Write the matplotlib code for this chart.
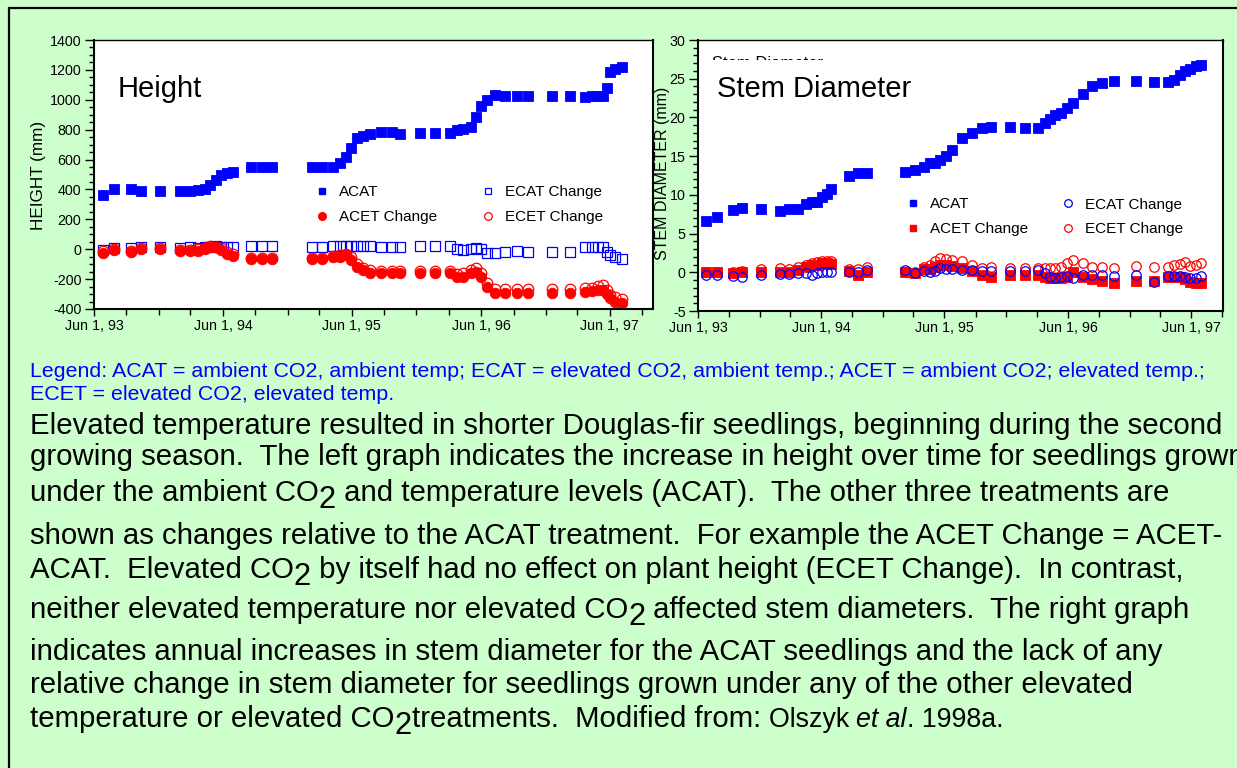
import matplotlib
matplotlib.use("Agg")
import matplotlib.pyplot as plt
import matplotlib.dates as mdates
from matplotlib.ticker import MultipleLocator, FuncFormatter
from matplotlib.lines import Line2D
from matplotlib.legend import Legend
from matplotlib.patches import Rectangle
import pandas as pd

plt.rcParams['font.family'] = ['Liberation Sans', 'DejaVu Sans']
plt.rcParams['axes.unicode_minus'] = False

# ---------------- data ----------------
height_dates = ["1993-06-27", "1993-07-28", "1993-09-13", "1993-10-11", "1993-12-05",
                "1994-01-30", "1994-02-28", "1994-03-23", "1994-04-11", "1994-04-25",
                "1994-05-12", "1994-05-28", "1994-06-12", "1994-06-30", "1994-08-21",
                "1994-09-19", "1994-10-17", "1995-02-07", "1995-03-08", "1995-04-09",
                "1995-04-28", "1995-05-15", "1995-05-29", "1995-06-15", "1995-07-02",
                "1995-07-24", "1995-08-24", "1995-09-22", "1995-10-15", "1995-12-11",
                "1996-01-22", "1996-03-05", "1996-03-24", "1996-04-12", "1996-05-05",
                "1996-05-19", "1996-06-02", "1996-06-17", "1996-07-11", "1996-08-08",
                "1996-09-10", "1996-10-13", "1996-12-18", "1997-02-08", "1997-03-22",
                "1997-04-10", "1997-04-29", "1997-05-12", "1997-05-24", "1997-06-01",
                "1997-06-15", "1997-07-04"]
height_acat = [363, 400, 401, 392, 388, 392, 392, 396, 401, 430, 463, 497, 512, 519, 548,
               552, 552, 552, 552, 550, 577, 620, 675, 742, 758, 771, 782, 782, 771, 776,
               776, 776, 798, 802, 820, 883, 958, 998, 1032, 1025, 1025, 1025, 1025, 1025,
               1017, 1022, 1025, 1025, 1077, 1188, 1204, 1217]
height_ecat_change = [-5, 6, 6, 13, 13, 6, 13, 6, 13, 18, 22, 13, 13, 13, 24, 22, 24, 17, 17,
                      24, 22, 22, 24, 24, 24, 22, 13, 13, 17, 24, 24, 24, 0, -5, 0, 6, 0,
                      -28, -28, -17, -10, -17, -17, -17, 17, 17, 17, 13, -20, -38, -50, -67]
height_acet_change = [-23, -5, -17, 0, 0, -12, -12, -12, 0, 13, 13, -5, -34, -43, -65, -65,
                      -65, -67, -65, -54, -50, -38, -72, -117, -139, -157, -161, -161, -161,
                      -161, -161, -161, -188, -184, -161, -150, -184, -250, -295, -290, -290,
                      -290, -290, -290, -284, -280, -273, -273, -300, -328, -350, -362]
height_ecet_change = [-15, 0, -10, 8, 5, -8, -8, 0, 8, 22, 18, 5, -20, -30, -60, -60, -60,
                      -62, -60, -45, -40, -30, -55, -100, -125, -140, -143, -143, -143, -143,
                      -143, -143, -165, -160, -140, -125, -160, -225, -268, -268, -268, -268,
                      -268, -268, -262, -258, -245, -242, -275, -305, -320, -335]

stem_dates = ["1993-06-25", "1993-07-26", "1993-09-12", "1993-10-09", "1993-12-05",
              "1994-01-30", "1994-02-27", "1994-03-25", "1994-04-17", "1994-05-04",
              "1994-05-19", "1994-06-03", "1994-06-18", "1994-06-29", "1994-08-21",
              "1994-09-19", "1994-10-16", "1995-02-05", "1995-03-06", "1995-03-31",
              "1995-04-18", "1995-05-05", "1995-05-19", "1995-06-06", "1995-06-24",
              "1995-07-23", "1995-08-21", "1995-09-20", "1995-10-17", "1995-12-11",
              "1996-01-26", "1996-03-03", "1996-03-26", "1996-04-10", "1996-04-24",
              "1996-05-11", "1996-05-29", "1996-06-16", "1996-07-16", "1996-08-11",
              "1996-09-10", "1996-10-14", "1996-12-18", "1997-02-10", "1997-03-25",
              "1997-04-10", "1997-04-28", "1997-05-13", "1997-05-28", "1997-06-14",
              "1997-07-01"]
stem_acat = [6.67, 7.18, 8.04, 8.26, 8.13, 7.96, 8.17, 8.17, 8.78, 9.04, 9.12, 9.77, 10.11,
             10.72, 12.44, 12.78, 12.78, 12.91, 13.21, 13.64, 14.08, 14.16, 14.5, 15.0, 15.8,
             17.3, 17.95, 18.6, 18.7, 18.7, 18.6, 18.6, 19.3, 19.76, 20.3, 20.6, 21.2, 21.9,
             23.0, 24.06, 24.5, 24.7, 24.7, 24.6, 24.6, 24.8, 25.5, 26.0, 26.3, 26.6, 26.8]
stem_acet_change = [0.0, 0.0, -0.1, 0.0, 0.1, 0.1, 0.0, 0.35, 0.7, 0.9, 1.0, 1.2, 1.2, 1.1,
                    0.2, -0.35, 0.0, 0.0, -0.1, 0.4, 0.4, 0.7, 1.0, 1.0, 0.8, 0.6, 0.2,
                    -0.35, -0.56, -0.35, -0.35, -0.35, -0.56, -0.7, -0.78, -0.8, -0.56, 0.0,
                    -0.56, -0.9, -1.1, -1.34, -1.1, -1.1, -0.6, -0.6, -0.6, -0.9, -1.2,
                    -1.34, -1.34]
stem_ecat_change = [-0.35, -0.35, -0.45, -0.6, -0.35, -0.2, -0.2, -0.1, -0.1, -0.35, -0.1,
                    0.0, 0.0, 0.0, 0.0, 0.0, 0.3, 0.3, -0.1, 0.2, 0.1, 0.2, 0.5, 0.4, 0.4,
                    0.3, 0.3, 0.2, 0.2, 0.2, 0.2, 0.3, -0.1, -0.56, -0.7, -0.56, -0.5, -0.7,
                    -0.4, -0.4, -0.35, -0.45, -0.35, -1.2, -0.45, -0.45, -0.45, -0.6, -0.7,
                    -0.8, -0.45]
stem_ecet_change = [0.1, 0.1, 0.1, 0.2, 0.4, 0.5, 0.4, 0.7, 1.0, 1.2, 1.3, 1.4, 1.5, 1.4,
                    0.4, 0.4, 0.7, 0.1, 0.1, 0.7, 0.9, 1.4, 1.9, 1.7, 1.6, 1.4, 0.95, 0.5,
                    0.65, 0.5, 0.5, 0.5, 0.5, 0.5, 0.6, 0.73, 1.16, 1.6, 1.16, 0.73, 0.73,
                    0.5, 0.8, 0.65, 0.73, 0.95, 1.1, 1.3, 0.8, 0.95, 1.16]

series_labels = ["ACAT", "ECAT Change", "ACET Change", "ECET Change"]

legend_line1 = ("Legend: ACAT = ambient CO2, ambient temp; ECAT = elevated CO2, ambient temp.; "
                "ACET = ambient CO2; elevated temp.;")
legend_line2 = "ECET = elevated CO2, elevated temp."

# each paragraph line: list of (text, kind); kind: n=normal, s=subscript, m=citation, i=citation italic
paragraph = [
    [("Elevated temperature resulted in shorter Douglas-fir seedlings, beginning during the second", "n")],
    [("growing season.  The left graph indicates the increase in height over time for seedlings grown", "n")],
    [("under the ambient CO", "n"), ("2", "s"), (" and temperature levels (ACAT).  The other three treatments are", "n")],
    [("shown as changes relative to the ACAT treatment.  For example the ACET Change = ACET-", "n")],
    [("ACAT.  Elevated CO", "n"), ("2", "s"), (" by itself had no effect on plant height (ECET Change).  In contrast,", "n")],
    [("neither elevated temperature nor elevated CO", "n"), ("2", "s"), (" affected stem diameters.  The right graph", "n")],
    [("indicates annual increases in stem diameter for the ACAT seedlings and the lack of any", "n")],
    [("relative change in stem diameter for seedlings grown under any of the other elevated", "n")],
    [("temperature or elevated CO", "n"), ("2", "s"), ("treatments.  Modified from: ", "n"),
     ("Olszyk ", "m"), ("et al", "i"), (". 1998a.", "m")],
]
paragraph_baselines = [434, 465, 501, 544, 578, 618, 660, 693, 727]

# ---------------- figure ----------------
W, H = 1237, 768
fig = plt.figure(figsize=(W / 100, H / 100), dpi=100)
fig.patch.set_facecolor('#CCFFCC')

BLUE = '#0000FF'
RED = '#FF0000'


def fx(px):
    return px / W


def fy(py):
    return 1 - py / H


def axes_px(left, top, right, bottom):
    return fig.add_axes([fx(left), fy(bottom), (right - left) / W, (bottom - top) / H])


# slide frame (top and left edges fall inside the canvas)
fig.add_artist(Rectangle((fx(9), fy(1200)), fx(1600), fy(8) - fy(1200), transform=fig.transFigure,
                         fill=False, edgecolor='black', linewidth=1.6))


def date_fmt(x, pos):
    d = mdates.num2date(x)
    return f"{d:%b} {d.day}, {d:%y}"


def style_axes(ax, ylim, major, minor, xend):
    ax.set_facecolor('white')
    ax.set_xlim(pd.Timestamp("1993-06-01"), pd.Timestamp(xend))
    ax.set_ylim(*ylim)
    ax.xaxis.set_major_locator(mdates.YearLocator(base=1, month=6, day=1))
    ax.xaxis.set_minor_locator(mdates.MonthLocator(bymonth=[3, 6, 9, 12], bymonthday=1))
    ax.xaxis.set_major_formatter(FuncFormatter(date_fmt))
    ax.yaxis.set_major_locator(MultipleLocator(major))
    ax.yaxis.set_minor_locator(MultipleLocator(minor))
    ax.tick_params(axis='both', which='both', direction='out', colors='black',
                   labelsize=10.3, width=1.0)
    ax.tick_params(axis='y', which='major', length=6.5, pad=2.5)
    ax.tick_params(axis='y', which='minor', length=3.6)
    ax.tick_params(axis='x', which='major', length=4.8, pad=2.5)
    ax.tick_params(axis='x', which='minor', length=4.0)
    for side in ('left', 'bottom', 'right'):
        ax.spines[side].set_linewidth(1.5)
    ax.spines['top'].set_linewidth(1.0)


def column_legend(ax, handles, labels, x_px, y_px):
    leg = Legend(ax, handles, labels, loc='center left',
                 bbox_to_anchor=(fx(x_px), fy(y_px)), bbox_transform=fig.transFigure,
                 frameon=False, borderpad=0, borderaxespad=0, fontsize=11,
                 handlelength=1.0, handletextpad=0.62, labelspacing=0.72)
    ax.add_artist(leg)
    return leg


# ---- Height panel ----
ax1 = axes_px(94, 40, 653, 309)
style_axes(ax1, (-400, 1400), 200, 50, "1997-10-01")
hd = pd.to_datetime(height_dates)
ax1.plot(hd, height_acat, ls='none', marker='s', ms=7.2, mfc=BLUE, mec=BLUE, mew=0.6)
ax1.plot(hd, height_ecat_change, ls='none', marker='s', ms=6.6, mfc='none', mec=BLUE, mew=0.9)
ax1.plot(hd, height_ecet_change, ls='none', marker='o', ms=7.6, mfc='none', mec=RED, mew=0.9)
ax1.plot(hd, height_acet_change, ls='none', marker='o', ms=7.6, mfc=RED, mec=RED, mew=0.6)
ax1.text(fx(118), fy(97), "Height", transform=fig.transFigure, fontsize=21, va='baseline')

h_acat = Line2D([], [], ls='none', marker='s', ms=5, mfc=BLUE, mec=BLUE)
h_ecat = Line2D([], [], ls='none', marker='s', ms=5, mfc='none', mec=BLUE, mew=0.9)
h_acet = Line2D([], [], ls='none', marker='o', ms=5.5, mfc=RED, mec=RED)
h_ecet = Line2D([], [], ls='none', marker='o', ms=5.5, mfc='none', mec=RED, mew=0.9)
column_legend(ax1, [h_acat, h_acet], [series_labels[0], series_labels[2]], 314.5, 204.5)
column_legend(ax1, [h_ecat, h_ecet], [series_labels[1], series_labels[3]], 480.5, 204.5)
fig.text(fx(38), fy(175), "HEIGHT (mm)", rotation=90, ha='center', va='center', fontsize=12.3)

# ---- Stem diameter panel ----
ax2 = axes_px(698, 40, 1223, 311)
style_axes(ax2, (-5, 30), 5, 1, "1997-09-03")
sd = pd.to_datetime(stem_dates)
ax2.plot(sd, stem_acat, ls='none', marker='s', ms=7.2, mfc=BLUE, mec=BLUE, mew=0.6)
ax2.plot(sd, stem_acet_change, ls='none', marker='s', ms=7.0, mfc=RED, mec=RED, mew=0.6)
ax2.plot(sd, stem_ecet_change, ls='none', marker='o', ms=6.8, mfc='none', mec=RED, mew=0.9)
ax2.plot(sd, stem_ecat_change, ls='none', marker='o', ms=6.8, mfc='none', mec=BLUE, mew=0.9)
# small caption partly hidden behind the large panel title
ax2.text(fx(712), fy(68), "Stem Diameter", transform=fig.transFigure, fontsize=12, va='baseline')
ax2.text(fx(717), fy(97), "Stem Diameter", transform=fig.transFigure, fontsize=21, va='baseline',
         bbox=dict(boxstyle='square,pad=0.5', facecolor='white', edgecolor='none'))

s_acat = Line2D([], [], ls='none', marker='s', ms=5, mfc=BLUE, mec=BLUE)
s_acet = Line2D([], [], ls='none', marker='s', ms=5, mfc=RED, mec=RED)
s_ecat = Line2D([], [], ls='none', marker='o', ms=5.5, mfc='none', mec=BLUE, mew=0.9)
s_ecet = Line2D([], [], ls='none', marker='o', ms=5.5, mfc='none', mec=RED, mew=0.9)
column_legend(ax2, [s_acat, s_acet], [series_labels[0], series_labels[2]], 905.5, 217)
column_legend(ax2, [s_ecat, s_ecet], [series_labels[1], series_labels[3]], 1060.5, 217)
fig.text(fx(662), fy(173), "STEM DIAMETER (mm)", rotation=90, ha='center', va='center', fontsize=11.5)

# ---------------- caption text ----------------
fig.text(fx(30), fy(377), legend_line1, color=BLUE, fontsize=15.4, va='baseline')
fig.text(fx(30), fy(400), legend_line2, color=BLUE, fontsize=15.4, va='baseline')

renderer = fig.canvas.get_renderer()
BODY = 21.15
for line, base in zip(paragraph, paragraph_baselines):
    cur = 30.0
    for text, kind in line:
        kw = dict(fontsize=BODY, va='baseline', ha='left', color='black')
        y = base
        if kind == 's':
            y = base + 7
            kw['fontsize'] = BODY * 1.05
        elif kind == 'm':
            kw['fontsize'] = BODY * 0.91
        elif kind == 'i':
            kw['fontsize'] = BODY * 0.91
            kw['style'] = 'italic'
        t = fig.text(fx(cur), fy(y), text, **kw)
        bb = t.get_window_extent(renderer)
        cur = bb.x1

fig.savefig("out.png", dpi=100, facecolor=fig.get_facecolor())
